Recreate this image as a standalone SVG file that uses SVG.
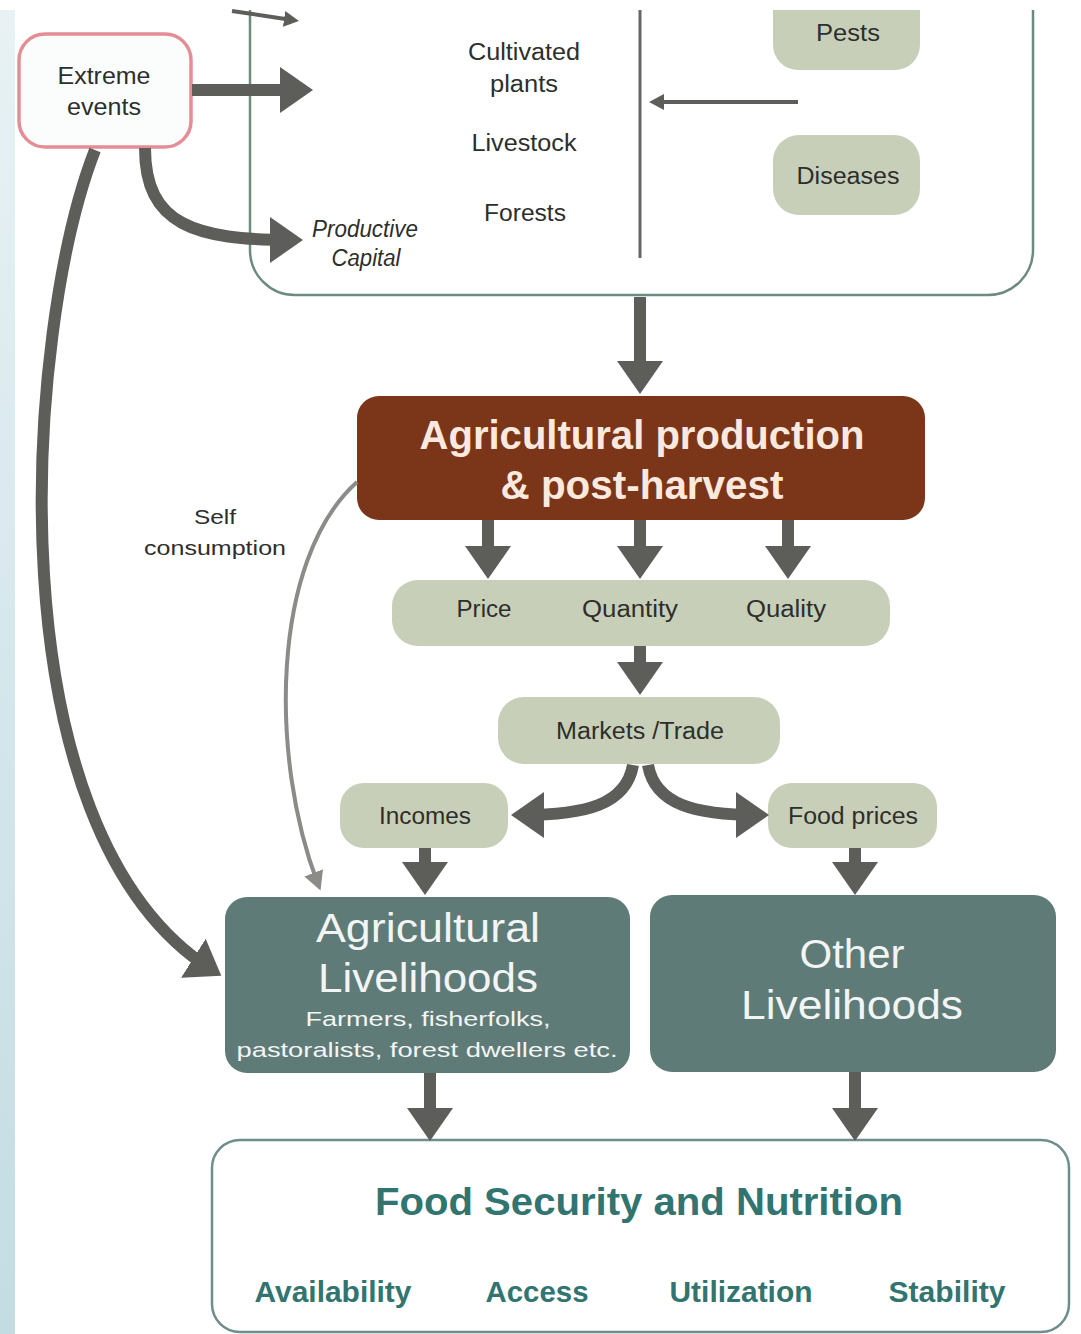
<svg xmlns="http://www.w3.org/2000/svg" width="1081" height="1334" viewBox="0 0 1081 1334">
<defs>
<linearGradient id="strip" x1="0" y1="0" x2="0" y2="1">
<stop offset="0" stop-color="#e8f2f5"/>
<stop offset="1" stop-color="#c3dce2"/>
</linearGradient>
<marker id="head" markerUnits="userSpaceOnUse" markerWidth="34" markerHeight="48" viewBox="0 0 34 48" refX="22" refY="24" orient="auto">
<path d="M0,1 L33,24 L0,47 z" fill="#5d5e5a"/>
</marker>
<marker id="headS" markerUnits="userSpaceOnUse" markerWidth="20" markerHeight="22" viewBox="0 0 20 22" refX="12" refY="11" orient="auto">
<path d="M0,1 L19,11 L0,21 z" fill="#8b8b88"/>
</marker>
<marker id="headT" markerUnits="userSpaceOnUse" markerWidth="16" markerHeight="18" viewBox="0 0 16 18" refX="8" refY="9" orient="auto">
<path d="M0,1 L15,9 L0,17 z" fill="#5d5e5a"/>
</marker>
<style>
.t{font-family:"Liberation Sans",Arial,sans-serif;fill:#2e2e2c;text-anchor:middle}
.s{font-size:23px}
.it{font-style:italic}
.sage{fill:#c8cfb8}
.arr{fill:none;stroke:#5d5e5a;stroke-width:12;marker-end:url(#head)}
.big{font-family:"Liberation Sans",Arial,sans-serif;text-anchor:middle;font-size:40px}
.fs{font-family:"Liberation Sans",Arial,sans-serif;text-anchor:middle;font-weight:bold;fill:#327470}
</style>
</defs>
<rect x="0" y="0" width="1081" height="1334" fill="#ffffff"/>
<rect x="0" y="10" width="15" height="1324" fill="url(#strip)"/>

<g id="production-system">
<path d="M250,10 L250,250 A45,45 0 0 0 295,295 L988,295 A45,45 0 0 0 1033,250 L1033,10" fill="none" stroke="#6d8a7e" stroke-width="2.5"/>
<line x1="640" y1="10" x2="640" y2="258" stroke="#666664" stroke-width="3"/>
<text class="t s" x="524" y="60" textLength="112" lengthAdjust="spacingAndGlyphs">Cultivated</text>
<text class="t s" x="524" y="92" textLength="68" lengthAdjust="spacingAndGlyphs">plants</text>
<text class="t s" x="524" y="151" textLength="105" lengthAdjust="spacingAndGlyphs">Livestock</text>
<text class="t s" x="525" y="221" textLength="82" lengthAdjust="spacingAndGlyphs">Forests</text>
<text class="t s it" x="365" y="237" textLength="106" lengthAdjust="spacingAndGlyphs">Productive</text>
<text class="t s it" x="366" y="266" textLength="69" lengthAdjust="spacingAndGlyphs">Capital</text>
</g>

<g id="pests">
<path d="M773,10 L920,10 L920,45 A25,25 0 0 1 895,70 L798,70 A25,25 0 0 1 773,45 z" class="sage"/>
<text class="t s" x="848" y="41" textLength="64" lengthAdjust="spacingAndGlyphs">Pests</text>
</g>

<g id="diseases">
<rect x="773" y="135" width="147" height="80" rx="26" class="sage"/>
<text class="t s" x="848" y="184" textLength="103" lengthAdjust="spacingAndGlyphs">Diseases</text>
</g>

<g id="extreme-events">
<rect x="19" y="34" width="172" height="113" rx="26" fill="#fbfdfd" stroke="#e48d94" stroke-width="3.5"/>
<text class="t s" x="104" y="84" textLength="93" lengthAdjust="spacingAndGlyphs">Extreme</text>
<text class="t s" x="104" y="115" textLength="74" lengthAdjust="spacingAndGlyphs">events</text>
</g>

<g id="agri-production">
<rect x="357" y="396" width="568" height="124" rx="22" fill="#7b3519"/>
<text class="big" x="642" y="449" font-weight="bold" fill="#fbe9df" textLength="445" lengthAdjust="spacingAndGlyphs">Agricultural production</text>
<text class="big" x="642" y="499" font-weight="bold" fill="#fbe9df" textLength="283" lengthAdjust="spacingAndGlyphs">&amp; post-harvest</text>
</g>

<g id="price-quantity-quality">
<rect x="392" y="580" width="498" height="66" rx="26" class="sage"/>
<text class="t s" x="484" y="617" textLength="55" lengthAdjust="spacingAndGlyphs">Price</text>
<text class="t s" x="630" y="617" textLength="96" lengthAdjust="spacingAndGlyphs">Quantity</text>
<text class="t s" x="786" y="617" textLength="80" lengthAdjust="spacingAndGlyphs">Quality</text>
</g>

<g id="markets">
<rect x="498" y="697" width="282" height="67" rx="26" class="sage"/>
<text class="t s" x="640" y="739" textLength="168" lengthAdjust="spacingAndGlyphs">Markets /Trade</text>
</g>

<g id="incomes">
<rect x="340" y="783" width="168" height="65" rx="24" class="sage"/>
<text class="t s" x="425" y="824" textLength="92" lengthAdjust="spacingAndGlyphs">Incomes</text>
</g>

<g id="food-prices">
<rect x="768" y="783" width="169" height="65" rx="24" class="sage"/>
<text class="t s" x="853" y="824" textLength="130" lengthAdjust="spacingAndGlyphs">Food prices</text>
</g>

<g id="self-consumption-label">
<text class="t" font-size="21" x="215" y="524" textLength="42" lengthAdjust="spacingAndGlyphs">Self</text>
<text class="t" font-size="21" x="215" y="555" textLength="142" lengthAdjust="spacingAndGlyphs">consumption</text>
</g>

<g id="agri-livelihoods">
<rect x="225" y="897" width="405" height="176" rx="22" fill="#5f7b77"/>
<text class="big" x="428" y="942" fill="#f2f5f4" textLength="224" lengthAdjust="spacingAndGlyphs">Agricultural</text>
<text class="big" x="428" y="992" fill="#f2f5f4" textLength="220" lengthAdjust="spacingAndGlyphs">Livelihoods</text>
<text class="t" font-size="21" x="428" y="1026" fill="#f2f5f4" style="fill:#f2f5f4" textLength="245" lengthAdjust="spacingAndGlyphs">Farmers, fisherfolks,</text>
<text class="t" font-size="21" x="427" y="1057" style="fill:#f2f5f4" textLength="381" lengthAdjust="spacingAndGlyphs">pastoralists, forest dwellers etc.</text>
</g>

<g id="other-livelihoods">
<rect x="650" y="895" width="406" height="177" rx="22" fill="#5f7b77"/>
<text class="big" x="852" y="968" fill="#f2f5f4" textLength="105" lengthAdjust="spacingAndGlyphs">Other</text>
<text class="big" x="852" y="1019" fill="#f2f5f4" textLength="222" lengthAdjust="spacingAndGlyphs">Livelihoods</text>
</g>

<g id="food-security">
<rect x="212" y="1140" width="857" height="192" rx="28" fill="#ffffff" stroke="#6e8d8c" stroke-width="2.5"/>
<text class="fs" x="639" y="1215" font-size="38" textLength="528" lengthAdjust="spacingAndGlyphs">Food Security and Nutrition</text>
<text class="fs" x="333" y="1302" font-size="29" textLength="157" lengthAdjust="spacingAndGlyphs">Availability</text>
<text class="fs" x="537" y="1302" font-size="29" textLength="103" lengthAdjust="spacingAndGlyphs">Access</text>
<text class="fs" x="741" y="1302" font-size="29" textLength="143" lengthAdjust="spacingAndGlyphs">Utilization</text>
<text class="fs" x="947" y="1302" font-size="29" textLength="117" lengthAdjust="spacingAndGlyphs">Stability</text>
</g>

<g id="connectors">
<line x1="232" y1="11" x2="292" y2="20" stroke="#5d5e5a" stroke-width="4" marker-end="url(#headT)"/>
<line x1="798" y1="102" x2="656" y2="102" stroke="#5d5e5a" stroke-width="4" marker-end="url(#headT)"/>
<line x1="192" y1="90" x2="302" y2="90" class="arr"/>
<path d="M145,148 C145,225 195,240 292,240" class="arr"/>
<path d="M95,150 C25,330 -10,830 212,970" class="arr" stroke-width="9"/>
<line x1="640" y1="297" x2="640" y2="383" class="arr"/>
<line x1="488" y1="520" x2="488" y2="568" class="arr"/>
<line x1="640" y1="520" x2="640" y2="568" class="arr"/>
<line x1="788" y1="520" x2="788" y2="568" class="arr"/>
<line x1="640" y1="646" x2="640" y2="684" class="arr"/>
<path d="M633,765 C626,805 585,815 522,815" class="arr"/>
<path d="M648,765 C655,805 696,815 758,815" class="arr"/>
<line x1="425" y1="848" x2="425" y2="884" class="arr"/>
<line x1="855" y1="848" x2="855" y2="884" class="arr"/>
<path d="M357,482 C270,560 270,760 318,884" fill="none" stroke="#8b8b88" stroke-width="4" marker-end="url(#headS)"/>
<line x1="430" y1="1073" x2="430" y2="1130" class="arr"/>
<line x1="855" y1="1072" x2="855" y2="1130" class="arr"/>
</g>
</svg>
